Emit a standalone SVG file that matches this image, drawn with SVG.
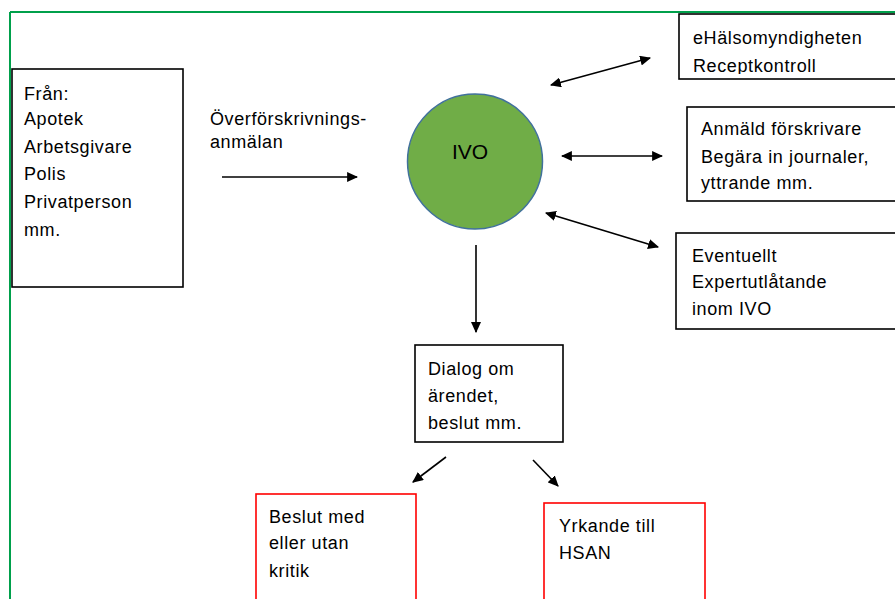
<svg xmlns="http://www.w3.org/2000/svg" width="895" height="599" viewBox="0 0 895 599">
<defs>
<style>
text{font-family:"Liberation Sans",Arial,sans-serif;font-size:18px;fill:#000;letter-spacing:0.6px}
.box{fill:#fff;stroke:#000;stroke-width:1.6}
.red{fill:#fff;stroke:#ff0000;stroke-width:1.6}
.ln{stroke:#000;stroke-width:1.6;fill:none}
</style>
<marker id="ah" viewBox="0 0 10 10" refX="9" refY="5" markerWidth="11" markerHeight="10" markerUnits="userSpaceOnUse" orient="auto-start-reverse" preserveAspectRatio="none"><path d="M0,0 L10,5 L0,10 Z" fill="#000"/></marker>
<clipPath id="c1"><rect x="680" y="15" width="215" height="59"/></clipPath>
</defs>
<rect width="895" height="599" fill="#fff"/>
<g id="frame" stroke="#00a04b" stroke-width="2" fill="none">
<line x1="10" y1="12" x2="895" y2="12"/>
<line x1="10" y1="12" x2="10" y2="599"/>
</g>
<g id="connectors">
<line class="ln" x1="222" y1="177" x2="357" y2="177" marker-end="url(#ah)"/>
<line class="ln" x1="551" y1="85" x2="650" y2="58" marker-start="url(#ah)" marker-end="url(#ah)"/>
<line class="ln" x1="562" y1="156" x2="662" y2="156" marker-start="url(#ah)" marker-end="url(#ah)"/>
<line class="ln" x1="546" y1="213" x2="658" y2="247" marker-start="url(#ah)" marker-end="url(#ah)"/>
<line class="ln" x1="476" y1="245" x2="476" y2="332" marker-end="url(#ah)"/>
<line class="ln" x1="446" y1="457" x2="413" y2="482" marker-end="url(#ah)"/>
<line class="ln" x1="533" y1="460" x2="558" y2="486" marker-end="url(#ah)"/>
</g>
<g id="label-overforskrivning">
<text x="210" y="125">Överförskrivnings-</text>
<text x="210" y="148">anmälan</text>
</g>
<g id="fran">
<rect class="box" x="12" y="69" width="171" height="218"/>
<text x="24" y="100">Från:</text>
<text x="24" y="125">Apotek</text>
<text x="24" y="153">Arbetsgivare</text>
<text x="24" y="180">Polis</text>
<text x="24" y="208">Privatperson</text>
<text x="24" y="236">mm.</text>
</g>
<g id="ivo">
<circle cx="475" cy="161.5" r="67.5" fill="#70ad47" stroke="#41719c" stroke-width="1.5"/>
<text x="470" y="159" text-anchor="middle" style="font-size:21px;letter-spacing:0">IVO</text>
</g>
<g id="ehalso">
<rect class="box" x="679" y="14" width="230" height="65"/>
<g clip-path="url(#c1)">
<text x="693" y="44">eHälsomyndigheten</text>
<text x="693" y="72">Receptkontroll</text>
</g>
</g>
<g id="anmald">
<rect class="box" x="687" y="107" width="222" height="94"/>
<text x="701" y="135">Anmäld förskrivare</text>
<text x="701" y="163">Begära in journaler,</text>
<text x="701" y="189">yttrande  mm.</text>
</g>
<g id="eventuellt">
<rect class="box" x="676" y="233" width="233" height="96"/>
<text x="692" y="262">Eventuellt</text>
<text x="692" y="288">Expertutlåtande</text>
<text x="692" y="315">inom IVO</text>
</g>
<g id="dialog">
<rect class="box" x="415" y="345" width="148" height="97"/>
<text x="428" y="375">Dialog om</text>
<text x="428" y="402">ärendet,</text>
<text x="428" y="429">beslut mm.</text>
</g>
<g id="beslut">
<rect class="red" x="256" y="494" width="160" height="120"/>
<text x="269" y="523">Beslut med</text>
<text x="269" y="549">eller utan</text>
<text x="269" y="577">kritik</text>
</g>
<g id="yrkande">
<rect class="red" x="544" y="503" width="161" height="120"/>
<text x="559" y="532">Yrkande till</text>
<text x="559" y="559">HSAN</text>
</g>
</svg>
